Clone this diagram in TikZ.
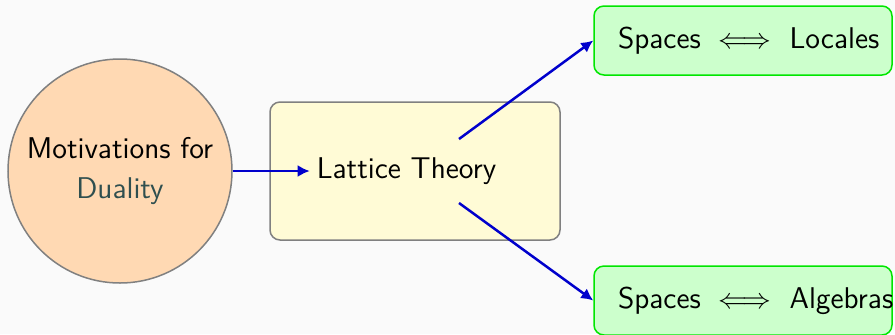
\documentclass[tikz,border=0pt]{standalone}
\usetikzlibrary{arrows.meta}
\definecolor{bgcol}{RGB}{250,250,250}
\definecolor{peach}{RGB}{255,217,179}
\definecolor{lemon}{RGB}{255,251,214}
\definecolor{mint}{RGB}{204,255,204}
\definecolor{edgegray}{RGB}{128,128,128}
\definecolor{brightgreen}{RGB}{0,230,0}
\definecolor{arrowblue}{RGB}{0,0,204}
\definecolor{slate}{RGB}{47,79,79}
\tikzset{
  topic/.style={circle, draw=edgegray, line width=0.75pt, fill=peach,
    minimum size=112pt, inner sep=0pt, align=center},
  hub/.style={rectangle, rounded corners=5pt, draw=edgegray, line width=0.75pt,
    fill=lemon, minimum width=145pt, minimum height=69pt},
  duality/.style={rectangle, rounded corners=5pt, draw=brightgreen, line width=0.75pt,
    fill=mint, text width=125pt, inner xsep=12pt, minimum height=34.5pt, align=left},
  flow/.style={-{Latex[length=6pt,width=6pt]}, draw=arrowblue, line width=1.25pt}
}
\begin{document}
\begin{tikzpicture}[x=0.5pt, y=-0.5pt, font=\sffamily\fontsize{15}{20}\selectfont]
  \useasboundingbox[fill=bgcol] (0,0) rectangle (895,334);

  % left: motivation circle
  \node[topic] (motiv) at (120,171)
    {Motivations for\\[0pt]\textcolor{slate}{Duality}};

  % middle: lattice theory box and its label
  \node[hub] (lattice) at (415,171) {};
  \node (ltlabel) at (406.5,171) {Lattice Theory};

  % right: the two dualities (text kept on one line)
  \node[duality] (locales) at (743,40.5) {\mbox{Spaces $\iff$ Locales}};
  \node[duality] (algebras) at (743,300.5) {\mbox{Spaces $\iff$ Algebras}};

  % branch points inside the lattice box
  \coordinate (up) at (459,139);
  \coordinate (down) at (459,203);

  \draw[flow] (motiv.east) -- (ltlabel.west);
  \draw[flow] (up) -- (locales.west);
  \draw[flow] (down) -- (algebras.west);
\end{tikzpicture}
\end{document}
